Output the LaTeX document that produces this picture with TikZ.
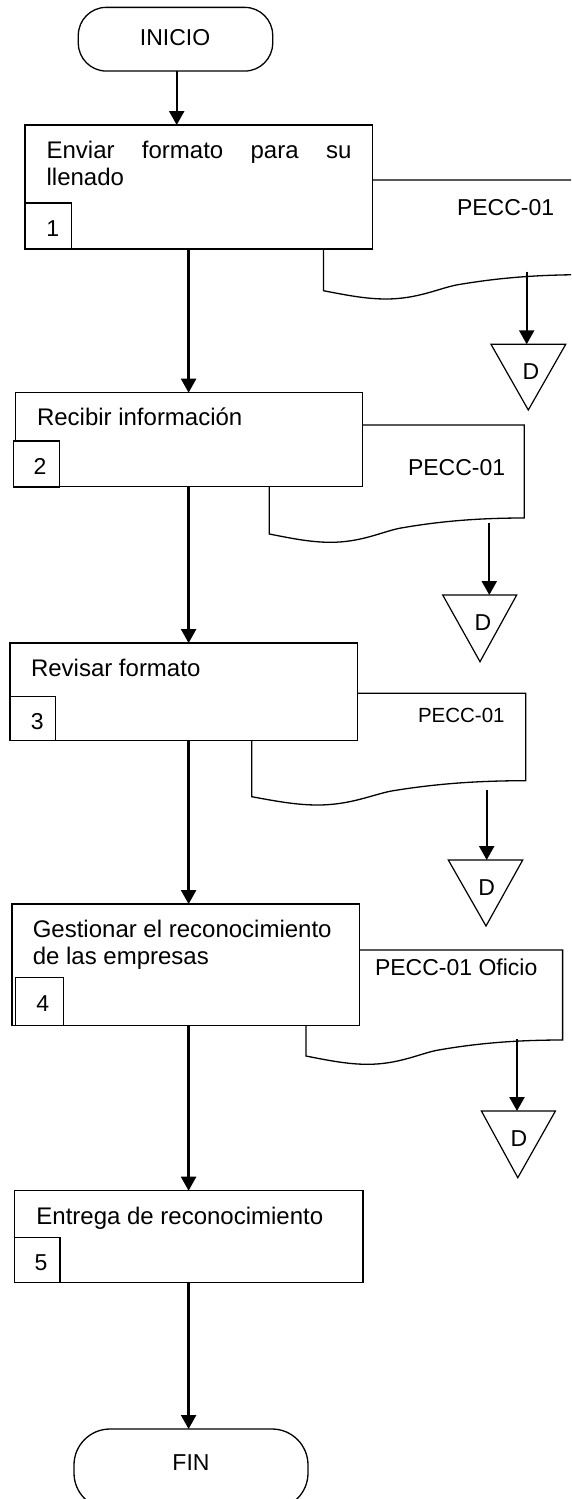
\documentclass[tikz,border=0pt]{standalone}
\usepackage{fontspec}
\setmainfont{Liberation Sans}
\usetikzlibrary{arrows.meta}
\newcommand\fsMain{\fontsize{23}{27}\selectfont}
\newcommand\fsStep{\fontsize{24}{27}\selectfont}
\newcommand\fsSmall{\fontsize{20.5}{24}\selectfont}
% document symbol: left x, top y, right x, bottom-left y
\newcommand\docsym[4]{%
  \pgfmathsetmacro\dW{#3-#1}%
  \draw[docline] (#3,{#4-16}) -- (#3,#2) -- (#1,#2) -- (#1,#4)
    .. controls ({#1+0.08*\dW},{#4+4}) and ({#1+0.16*\dW},{#4+8.3}) .. ({#1+0.24*\dW},{#4+8.3})
    .. controls ({#1+0.36*\dW},{#4+8.3}) and ({#1+0.44*\dW},{#4-2}) .. ({#1+0.51*\dW},{#4-5.7})
    .. controls ({#1+0.65*\dW},{#4-12}) and ({#1+0.8*\dW},{#4-16}) .. (#3,{#4-16}) -- cycle;}
\tikzset{
  stepbox/.style={draw, line width=1.3pt, fill=white, rectangle, inner sep=0pt, outer sep=0pt},
  numbox/.style={draw, line width=1.3pt, fill=white, rectangle, inner sep=0pt, outer sep=0pt},
  term/.style={draw, line width=1.3pt, fill=white, rectangle, inner sep=0pt, outer sep=0pt},
  docline/.style={line width=1.3pt, fill=white},
  tri/.style={line width=1.2pt, fill=white, line join=miter},
  flow/.style={line width=2.3pt, -{Triangle[width=15pt,length=14pt]}},
  txt/.style={inner sep=0pt, outer sep=0pt, anchor=base west, font=\fsMain},
  steptxt/.style={txt, font=\fsStep},
  ctxt/.style={inner sep=0pt, outer sep=0pt, anchor=base, font=\fsMain},
}
\begin{document}
\begin{tikzpicture}[x=1pt, y=-1pt]
\useasboundingbox (0,0) rectangle (571,1499);
\clip (0,0) rectangle (571,1499);

% spine of the main flow
\coordinate (spine) at (188.6,0);

% document symbols behind the steps
\docsym{323.4}{180}{584}{290.7}
\docsym{269.3}{425}{524.3}{534}
\docsym{251.7}{693.3}{525.7}{796.7}
\docsym{305.9}{950}{562.6}{1056}

% terminals
\node[term, rounded corners=28pt, minimum width=194.4pt, minimum height=63.7pt] (ini) at (175.5,39.2) {};
\node[ctxt] (initxt) at (175,45.3) {INICIO};
\node[term, rounded corners=36pt, minimum width=234pt, minimum height=80pt] (fin) at (191,1469) {};
\node[ctxt] (fintxt) at (191,1470) {FIN};

% process steps
\node[stepbox, minimum width=347.5pt, minimum height=124pt] (b1) at (198.75,187) {};
\node[stepbox, minimum width=347.4pt, minimum height=94pt] (b2) at (189,439.7) {};
\node[stepbox, minimum width=347.3pt, minimum height=97.7pt] (b3) at (183.7,691.9) {};
\node[stepbox, minimum width=347.8pt, minimum height=121.7pt] (b4) at (185.9,964.9) {};
\node[stepbox, minimum width=348.4pt, minimum height=92pt] (b5) at (188.8,1236.7) {};

% step numbers
\node[numbox, minimum width=46.4pt, minimum height=46pt] (n1) at (48.2,226) {};
\node[numbox, minimum width=46pt, minimum height=46pt] (n2) at (36.3,464) {};
\node[numbox, minimum width=45.3pt, minimum height=44pt] (n3) at (32.7,718.7) {};
\node[numbox, minimum width=48.4pt, minimum height=48.4pt] (n4) at (39.5,1001.5) {};
\node[numbox, minimum width=45.4pt, minimum height=45.4pt] (n5) at (37.3,1260) {};
\node[ctxt] (d1) at (52.8,236.7) {1};
\node[ctxt] (d2) at (40,474.3) {2};
\node[ctxt] (d3) at (37.2,729) {3};
\node[ctxt] (d4) at (42.8,1011) {4};
\node[ctxt] (d5) at (41,1270.7) {5};

% step texts
\node[steptxt] (s1a) at (46.6,158.3) {\makebox[304.8pt][s]{Enviar\hfill formato\hfill para\hfill su}};
\node[steptxt] (s1b) at (46.6,185.7) {llenado};
\node[steptxt] (s2) at (37,425.7) {Recibir información};
\node[steptxt] (s3) at (31,676.7) {Revisar formato};
\node[steptxt] (s4a) at (32.8,937.7) {Gestionar el reconocimiento};
\node[steptxt] (s4b) at (32.8,964.3) {de las empresas};
\node[steptxt] (s5) at (36.4,1224) {Entrega de reconocimiento};

% document labels
\node[txt] (p1) at (457,215) {PECC-01};
\node[txt] (p2) at (408,475) {PECC-01};
\node[txt, font=\fsSmall] (p3) at (418,722.3) {PECC-01};
\node[txt] (p4) at (375,975) {PECC-01 Oficio};

% file (D) symbols
\draw[tri] (491,344.3) -- (565.7,344.3) -- (528.3,410) -- cycle;
\draw[tri] (442.7,595) -- (516.7,595) -- (480,661.7) -- cycle;
\draw[tri] (448.3,860) -- (522.7,860) -- (486,926) -- cycle;
\draw[tri] (481.4,1111) -- (555.4,1111) -- (517.8,1177.7) -- cycle;
\coordinate (t1) at (526.7,344.3);
\coordinate (t2) at (489.3,595);
\coordinate (t3) at (486.7,860);
\coordinate (t4) at (517,1111);
\node[ctxt] (D1) at (531,379.3) {D};
\node[ctxt] (D2) at (483,630.7) {D};
\node[ctxt] (D3) at (486.7,895) {D};
\node[ctxt] (D4) at (519,1146.7) {D};

% arrows from the documents to the files
\coordinate (a1) at (526.7,271.7);
\coordinate (a2) at (489.3,523);
\coordinate (a3) at (486.7,790);
\coordinate (a4) at (517,1039);
\draw[flow] (a1) -- (t1);
\draw[flow] (a2) -- (t2);
\draw[flow] (a3) -- (t3);
\draw[flow] (a4) -- (t4);

% main flow
\coordinate (inix) at (176.7,0);
\draw[flow] (ini.south -| inix) -- (b1.north -| inix);
\draw[flow] (b1.south -| spine) -- (b2.north -| spine);
\draw[flow] (b2.south -| spine) -- (b3.north -| spine);
\draw[flow] (b3.south -| spine) -- (b4.north -| spine);
\draw[flow] (b4.south -| spine) -- (b5.north -| spine);
\draw[flow] (b5.south -| spine) -- (fin.north -| spine);
\end{tikzpicture}
\end{document}
